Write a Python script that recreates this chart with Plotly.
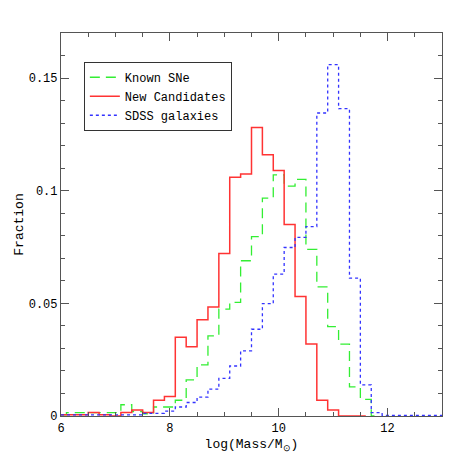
import plotly.graph_objects as go

centers = [6.0,6.2,6.4,6.6,6.8,7.0,7.2,7.4,7.6,7.8,8.0,8.2,8.4,8.6,8.8,9.0,9.2,9.4,9.6,9.8,
           10.0,10.2,10.4,10.6,10.8,11.0,11.2,11.4,11.6,11.8,12.0,12.2,12.4,12.6,12.8,13.0]
known = [0.0005,0.0015,0.0015,0.0015,0.0015,0.0015,0.005,0.002,0.001,0.004,0.004,0.007,0.016,0.0227,
         0.0356,0.0474,0.0504,0.0689,0.0796,0.0967,0.107,0.102,0.105,0.074,0.0573,0.0397,0.0319,0.0129,
         0.0074,0.0,None,None,None,None,None,None]
newc = [0.0005,0.0005,0.0005,0.0015,0.0005,0.0,0.0015,0.0027,0.0015,0.007,0.0086,0.035,0.0307,0.0427,
        0.0484,0.0721,0.106,0.1074,0.128,0.116,0.109,0.085,0.053,0.032,0.007,0.0027,0.0,0.0,0.0,
        None,None,None,None,None,None,None]
sdss = [0.0005]*8 + [0.0012,0.0012,0.0022,0.004,0.006,0.0084,0.0119,0.0167,0.0222,0.0289,0.0385,0.0499,
        0.063,0.0748,0.0793,0.0841,0.1345,0.156,0.1364,0.0612,0.0138,0.0015,0.0003,0.0003,0.0003,0.0003,0.0003,0.0003]

font = "Liberation Mono"
fig = go.Figure()
fig.add_trace(go.Scatter(x=centers, y=known, mode="lines", line_shape="hvh", name="Known SNe",
                         line=dict(color="#33ee33", width=1.3, dash="10px,6px")))
fig.add_trace(go.Scatter(x=centers, y=newc, mode="lines", line_shape="hvh", name="New Candidates",
                         line=dict(color="#ff3333", width=1.5)))
fig.add_trace(go.Scatter(x=centers, y=sdss, mode="lines", line_shape="hvh", name="SDSS galaxies",
                         line=dict(color="#3333ff", width=1.3, dash="dot")))

ax = dict(showgrid=False, zeroline=False, showline=True, linecolor="#555", linewidth=1.2, mirror="ticks",
          ticks="inside", ticklen=8, tickcolor="#555", automargin=False,
          tickfont=dict(family=font, size=12, color="black"))
fig.update_xaxes(**ax, range=[6, 13], tickvals=[6, 8, 10, 12],
                 minor=dict(ticks="inside", ticklen=4, dtick=0.5, tickcolor="#555"),
                 title=dict(text="log(Mass/M<sub>⊙</sub>)", font=dict(family=font, size=13, color="black"), standoff=4))
fig.update_yaxes(**ax, range=[0, 0.17], tickvals=[0, 0.05, 0.1, 0.15], ticktext=["0", "0.05", "0.1", "0.15"],
                 minor=dict(ticks="inside", ticklen=4, dtick=0.01, tickcolor="#555"),
                 title=dict(text="Fraction", font=dict(family=font, size=13, color="black"), standoff=2))
fig.update_layout(width=458, height=458, margin=dict(l=53, r=24, t=25, b=50),
                  plot_bgcolor="white", paper_bgcolor="white",
                  legend=dict(x=0.06, y=0.925, xanchor="left", yanchor="top", bordercolor="#333", borderwidth=1,
                              font=dict(family=font, size=12, color="black"), bgcolor="white",
                              tracegroupgap=0, itemwidth=30))
fig.write_html("out.html")
